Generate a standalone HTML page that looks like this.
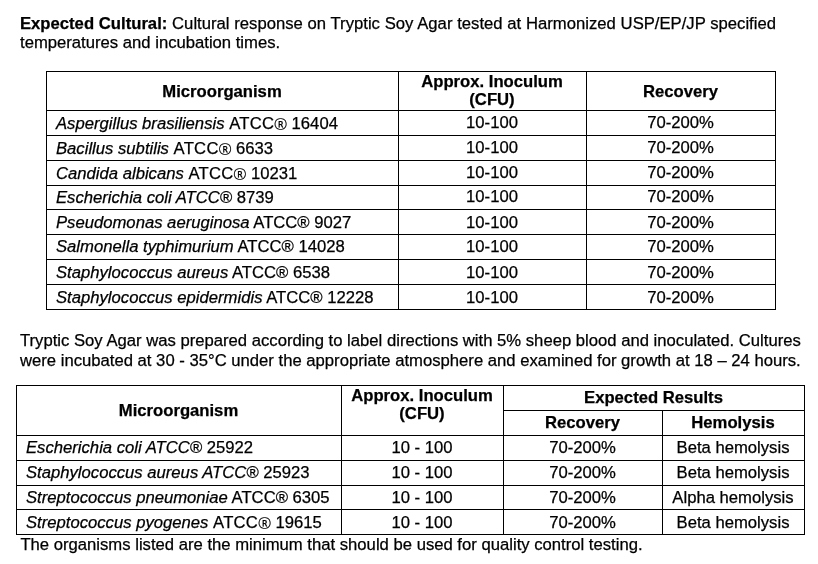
<!DOCTYPE html>
<html><head><meta charset="utf-8"><style>
html,body{margin:0;padding:0;background:#fff;}
body{filter:grayscale(1);}
body{width:818px;height:564px;position:relative;overflow:hidden;}
.t{position:absolute;white-space:nowrap;font-family:"Liberation Sans",sans-serif;font-size:16.67px;line-height:19px;color:#000;-webkit-text-stroke:0.25px #000;}
.c{text-align:center;}
.l{position:absolute;background:#000;}
b{font-weight:bold;}
.rg{font-family:"NanumGothic",sans-serif;font-size:14.8px;}
.ls{letter-spacing:0.25px;}
</style></head><body>
<div class="t " style="left:20px;top:14px"><span style="word-spacing:0.15px"><b>Expected Cultural:</b> Cultural response on Tryptic Soy Agar tested at Harmonized USP/EP/JP specified</span></div>
<div class="t " style="left:20px;top:32.5px">temperatures and incubation times.</div>
<div class="l" style="left:46px;top:71px;width:730px;height:1px"></div>
<div class="l" style="left:46px;top:110px;width:730px;height:1px"></div>
<div class="l" style="left:46px;top:135px;width:730px;height:1px"></div>
<div class="l" style="left:46px;top:160px;width:730px;height:1px"></div>
<div class="l" style="left:46px;top:185px;width:730px;height:1px"></div>
<div class="l" style="left:46px;top:209px;width:730px;height:1px"></div>
<div class="l" style="left:46px;top:234px;width:730px;height:1px"></div>
<div class="l" style="left:46px;top:259px;width:730px;height:1px"></div>
<div class="l" style="left:46px;top:284px;width:730px;height:1px"></div>
<div class="l" style="left:46px;top:309px;width:730px;height:1px"></div>
<div class="l" style="left:46px;top:71px;width:1px;height:239px"></div>
<div class="l" style="left:398px;top:71px;width:1px;height:239px"></div>
<div class="l" style="left:586px;top:71px;width:1px;height:239px"></div>
<div class="l" style="left:775px;top:71px;width:1px;height:239px"></div>
<div class="t c " style="left:46px;width:352px;top:81.5px"><b>Microorganism</b></div>
<div class="t c " style="left:398px;width:188px;top:71.5px"><b>Approx. Inoculum</b></div>
<div class="t c " style="left:398px;width:188px;top:89.8px"><b>(CFU)</b></div>
<div class="t c " style="left:586px;width:189px;top:81.5px"><b>Recovery</b></div>
<div class="t " style="left:56px;top:114.30000000000001px"><i>Aspergillus brasiliensis</i> <span class="ls">ATCC</span><span class="rg">®</span> 16404</div>
<div class="t c " style="left:398px;width:188px;top:113.30000000000001px">10-100</div>
<div class="t c " style="left:586px;width:189px;top:113.30000000000001px">70-200%</div>
<div class="t " style="left:56px;top:139.2px"><i>Bacillus subtilis</i> <span class="ls">ATCC</span><span class="rg">®</span> 6633</div>
<div class="t c " style="left:398px;width:188px;top:138.2px">10-100</div>
<div class="t c " style="left:586px;width:189px;top:138.2px">70-200%</div>
<div class="t " style="left:56px;top:163.9px"><i>Candida albicans</i> <span class="ls">ATCC</span><span class="rg">®</span> 10231</div>
<div class="t c " style="left:398px;width:188px;top:163.2px">10-100</div>
<div class="t c " style="left:586px;width:189px;top:163.2px">70-200%</div>
<div class="t " style="left:56px;top:188.3px"><i>Escherichia coli ATCC®</i> 8739</div>
<div class="t c " style="left:398px;width:188px;top:187.3px">10-100</div>
<div class="t c " style="left:586px;width:189px;top:187.3px">70-200%</div>
<div class="t " style="left:56px;top:212.5px"><i>Pseudomonas aeruginosa</i> ATCC® 9027</div>
<div class="t c " style="left:398px;width:188px;top:212.5px">10-100</div>
<div class="t c " style="left:586px;width:189px;top:212.5px">70-200%</div>
<div class="t " style="left:56px;top:237.3px"><i>Salmonella typhimurium</i> ATCC® 14028</div>
<div class="t c " style="left:398px;width:188px;top:237.3px">10-100</div>
<div class="t c " style="left:586px;width:189px;top:237.3px">70-200%</div>
<div class="t " style="left:56px;top:262.5px"><i>Staphylococcus aureus</i> ATCC® 6538</div>
<div class="t c " style="left:398px;width:188px;top:262.5px">10-100</div>
<div class="t c " style="left:586px;width:189px;top:262.5px">70-200%</div>
<div class="t " style="left:56px;top:287.5px"><i>Staphylococcus epidermidis</i> ATCC® 12228</div>
<div class="t c " style="left:398px;width:188px;top:287.5px">10-100</div>
<div class="t c " style="left:586px;width:189px;top:287.5px">70-200%</div>
<div class="t " style="left:20px;top:331px">Tryptic Soy Agar was prepared according to label directions with 5% sheep blood and inoculated. Cultures</div>
<div class="t " style="left:20px;top:351px">were incubated at 30 - 35°C under the appropriate atmosphere and examined for growth at 18 – 24 hours.</div>
<div class="l" style="left:16px;top:385px;width:789px;height:1px"></div>
<div class="l" style="left:16px;top:435px;width:789px;height:1px"></div>
<div class="l" style="left:16px;top:460px;width:789px;height:1px"></div>
<div class="l" style="left:16px;top:485px;width:789px;height:1px"></div>
<div class="l" style="left:16px;top:509px;width:789px;height:1px"></div>
<div class="l" style="left:16px;top:534px;width:789px;height:1px"></div>
<div class="l" style="left:503px;top:410px;width:302px;height:1px"></div>
<div class="l" style="left:16px;top:385px;width:1px;height:150px"></div>
<div class="l" style="left:341px;top:385px;width:1px;height:150px"></div>
<div class="l" style="left:503px;top:385px;width:1px;height:150px"></div>
<div class="l" style="left:804px;top:385px;width:1px;height:150px"></div>
<div class="l" style="left:662px;top:410px;width:1px;height:125px"></div>
<div class="t c " style="left:16px;width:325px;top:401px"><b>Microorganism</b></div>
<div class="t c " style="left:341px;width:162px;top:385.7px"><b>Approx. Inoculum</b></div>
<div class="t c " style="left:341px;width:162px;top:404.1px"><b>(CFU)</b></div>
<div class="t c " style="left:503px;width:301px;top:387.8px"><b>Expected Results</b></div>
<div class="t c " style="left:503px;width:159px;top:412.9px"><b>Recovery</b></div>
<div class="t c " style="left:662px;width:142px;top:412.9px"><b>Hemolysis</b></div>
<div class="t " style="left:26px;top:437.7px"><i>Escherichia coli ATCC®</i> 25922</div>
<div class="t c " style="left:341px;width:162px;top:437.7px">10 - 100</div>
<div class="t c " style="left:503px;width:159px;top:437.7px">70-200%</div>
<div class="t c " style="left:662px;width:142px;top:437.7px">Beta hemolysis</div>
<div class="t " style="left:26px;top:462.8px"><i>Staphylococcus aureus ATCC®</i> 25923</div>
<div class="t c " style="left:341px;width:162px;top:462.8px">10 - 100</div>
<div class="t c " style="left:503px;width:159px;top:462.8px">70-200%</div>
<div class="t c " style="left:662px;width:142px;top:462.8px">Beta hemolysis</div>
<div class="t " style="left:26px;top:487.7px"><i>Streptococcus pneumoniae</i> ATCC® 6305</div>
<div class="t c " style="left:341px;width:162px;top:487.7px">10 - 100</div>
<div class="t c " style="left:503px;width:159px;top:487.7px">70-200%</div>
<div class="t c " style="left:662px;width:142px;top:487.7px">Alpha hemolysis</div>
<div class="t " style="left:26px;top:512.6px"><i>Streptococcus pyogenes</i> <span class="ls">ATCC</span><span class="rg">®</span> 19615</div>
<div class="t c " style="left:341px;width:162px;top:512.6px">10 - 100</div>
<div class="t c " style="left:503px;width:159px;top:512.6px">70-200%</div>
<div class="t c " style="left:662px;width:142px;top:512.6px">Beta hemolysis</div>
<div class="t " style="left:20.4px;top:534.8px">The organisms listed are the minimum that should be used for quality control testing.</div>
</body></html>
